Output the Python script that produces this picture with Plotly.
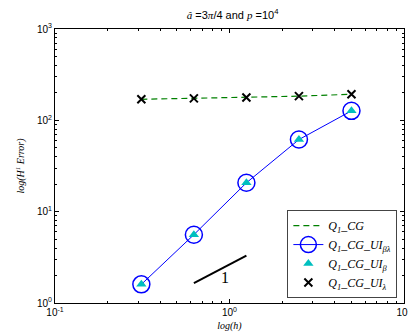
import plotly.graph_objects as go

# data
h = [0.3125, 0.625, 1.25, 2.5, 5.0]
err_cg = [170, 174, 178, 184, 193]
err_ui_bl = [1.6, 5.6, 20.7, 61.6, 127]
err_ui_b = [1.6, 5.6, 20.7, 61.6, 127]
err_ui_l = [170, 174, 178, 184, 193]

slope_x = [0.625, 1.25]
slope_y = [1.65, 3.3]

x_ticks = [0.1, 1, 10]
x_ticktext = ['10<sup>-1</sup>', '10<sup>0</sup>', '10<sup>1</sup>']
y_ticks = [1, 10, 100, 1000]
y_ticktext = ['10<sup>0</sup>', '10<sup>1</sup>', '10<sup>2</sup>', '10<sup>3</sup>']

SERIF = 'Liberation Serif'
SANS = 'Liberation Sans'


def math(s):
    return f'<span style="font-family:{SERIF}"><i>{s}</i></span>'


def minor_vals(lo, hi):
    vals = []
    for e in range(lo, hi):
        for m in range(2, 10):
            vals.append(m * 10 ** e)
    return vals


fig = go.Figure()

fig.add_trace(go.Scatter(
    x=h, y=err_cg, mode='lines', name=math('Q<sub>1</sub>_CG'),
    line=dict(color='#008000', width=1.2, dash='6px,4px')
))
fig.add_trace(go.Scatter(
    x=h, y=err_ui_bl, mode='lines+markers', name=math('Q<sub>1</sub>_CG_UI<sub>βλ</sub>'),
    line=dict(color='#0000ff', width=1),
    marker=dict(symbol='circle-open', size=17, color='#0000ff', line=dict(width=1.5))
))
fig.add_trace(go.Scatter(
    x=h, y=err_ui_b, mode='markers', name=math('Q<sub>1</sub>_CG_UI<sub>β</sub>'),
    marker=dict(symbol='triangle-up', size=9, color='#00bfbf')
))
fig.add_trace(go.Scatter(
    x=h, y=err_ui_l, mode='markers', name=math('Q<sub>1</sub>_CG_UI<sub>λ</sub>'),
    marker=dict(symbol='x-thin-open', size=8, color='black', line=dict(width=2, color='black'))
))
fig.add_trace(go.Scatter(
    x=slope_x, y=slope_y, mode='lines', showlegend=False,
    line=dict(color='black', width=2)
))

fig.add_annotation(x=-0.027, y=0.275, xref='x', yref='y', text='1', showarrow=False,
                   font=dict(family=SERIF, size=16, color='black'))

axis_common = dict(
    type='log', showgrid=False, zeroline=False,
    showline=True, linecolor='black', linewidth=1, mirror='allticks',
    ticks='inside', ticklen=4, tickcolor='black',
    tickfont=dict(family=SANS, size=10, color='black'),
)

fig.update_xaxes(
    range=[-1, 1], tickvals=x_ticks, ticktext=x_ticktext,
    minor=dict(tickvals=minor_vals(-1, 1), ticks='inside', ticklen=2, tickcolor='black'),
    title=dict(text=math('log(h)'), font=dict(size=10, color='black'), standoff=4),
    **axis_common
)
fig.update_yaxes(
    range=[0, 3], tickvals=y_ticks, ticktext=y_ticktext,
    minor=dict(tickvals=minor_vals(0, 3), ticks='inside', ticklen=2, tickcolor='black'),
    title=dict(text=math('log(H<sup>1</sup> Error)'), font=dict(size=10, color='black'), standoff=10),
    **axis_common
)

fig.update_layout(
    width=416, height=333,
    margin=dict(l=41, r=14, t=21, b=36),
    paper_bgcolor='white', plot_bgcolor='white',
    title=dict(
        text=math('â') + ' =3' + math('π') + '/4 and ' + math('p') + ' =10<sup>4</sup>',
        x=0.54, xanchor='center', y=0.99, yanchor='top',
        font=dict(family=SANS, size=11, color='black')
    ),
    legend=dict(
        x=0.981, xanchor='right', y=0.018, yanchor='bottom',
        bgcolor='white', bordercolor='#444', borderwidth=1,
        font=dict(family=SERIF, size=12, color='black'),
        itemsizing='trace', tracegroupgap=0
    ),
    showlegend=True,
)

fig.write_html("out.html")
